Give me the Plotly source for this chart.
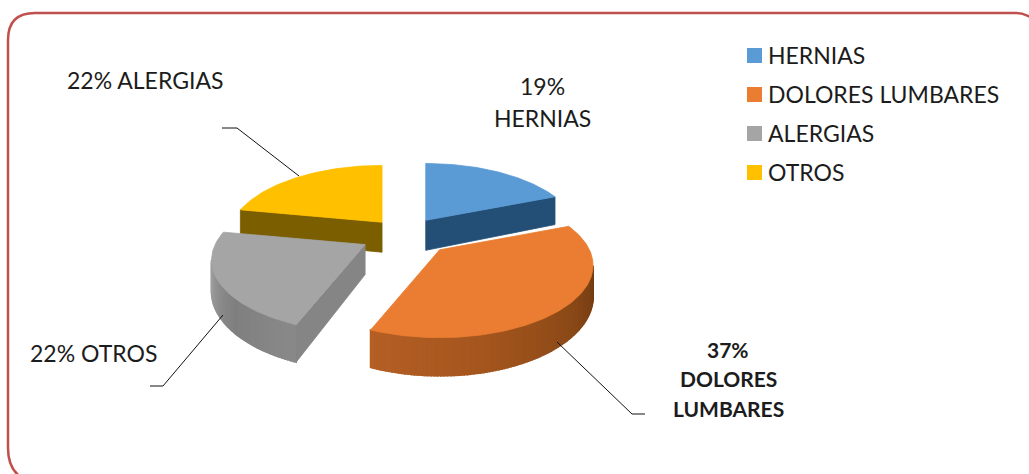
import math
import plotly.graph_objects as go

# ---- data ----
categories = ["HERNIAS", "DOLORES LUMBARES", "ALERGIAS", "OTROS"]
percent_values = [19, 37, 22, 22]
explode = [0.27, 0.31, 0.28, 0.25]
top_colors = ["#5b9bd5", "#ea7d31", "#a5a5a5", "#ffc000"]
side_colors = ["#234e75", "#a5561e", "#858585", "#7a5e00"]
outer_wall_stops = [
    ["#234e75", "#234e75"],
    ["#562c0b", "#6f3a12", "#8d4a18", "#a5561e", "#b45f25"],
    ["#8a8a8a", "#7f7f7f", "#9a9a9a", "#b5b5b5"],
    ["#7a5e00", "#7a5e00"],
]
nudge_x = [0, 1, -1, 1]
nudge_y = [-1, -2, -1, -1]

# ---- projection settings ----
CX, CY = 404, 236
RX, RY, PERSP, DEPTH = 150, 69, 0.214, 30
FONT = "Lato"
INK = "#1c1c1c"
LEGEND_SWATCH_X, LEGEND_TEXT_X, LEGEND_TOP, LEGEND_STEP = 754.5, 769, 55.5, 39


def project(gx, gy):
    s = 1 / (1 + PERSP * gy)
    return RX * gx * s, -RY * gy * s, s


def hex_rgb(c):
    return tuple(int(c[i:i + 2], 16) for i in (1, 3, 5))


def mix(stops, t):
    t = max(0, min(1, t)) * (len(stops) - 1)
    i = min(int(t), len(stops) - 2)
    f = t - i
    a, b = hex_rgb(stops[i]), hex_rgb(stops[i + 1])
    return "rgb(%d,%d,%d)" % tuple(round(a[k] + (b[k] - a[k]) * f) for k in range(3))


def poly(xs, ys, color, width=0.8):
    return go.Scatter(x=xs + xs[:1], y=ys + ys[:1], mode="lines", fill="toself", fillcolor=color,
                      line=dict(color=color, width=width), hoverinfo="skip", showlegend=False)


total = sum(percent_values)
spans, acc = [], 0
for v in percent_values:
    spans.append((acc / total * 360, (acc + v) / total * 360))
    acc += v

fig = go.Figure()

# paint order: back slices first, front slices last
for idx in [3, 0, 2, 1]:
    a0, a1 = spans[idx]
    mid = math.radians((a0 + a1) / 2)
    ox, oy, _ = project(explode[idx] * math.sin(mid), explode[idx] * math.cos(mid))
    ax, ay = CX + ox + nudge_x[idx], CY + oy + nudge_y[idx]

    def pt(deg):
        r = math.radians(deg)
        x, y, s = project(math.sin(r), math.cos(r))
        return ax + x, ay + y, s

    n = max(12, int(a1 - a0))
    degs = [a0 + (a1 - a0) * k / n for k in range(n + 1)]

    # outer curved wall, only where it faces the viewer
    for k in range(n):
        d0, d1 = degs[k], degs[k + 1]
        if math.cos(math.radians((d0 + d1) / 2)) > -PERSP:
            continue
        x0, y0, s0 = pt(d0)
        x1, y1, s1 = pt(d1)
        fig.add_trace(poly([x0, x1, x1, x0], [y0, y1, y1 + DEPTH * s1, y0 + DEPTH * s0],
                           mix(outer_wall_stops[idx], (k + 0.5) / n), width=1.6))

    # flat cut walls
    for deg, facing in ((a0, math.sin(math.radians(a0)) < -1e-6), (a1, math.sin(math.radians(a1)) > 1e-6)):
        if facing:
            x, y, s = pt(deg)
            fig.add_trace(poly([ax, x, x, ax], [ay, y, y + DEPTH * s, ay + DEPTH], side_colors[idx]))

    # top face
    arc = [pt(d) for d in degs]
    fig.add_trace(poly([ax] + [p[0] for p in arc], [ay] + [p[1] for p in arc], top_colors[idx]))

# legend: swatches and names, one row per category
rows = [LEGEND_TOP + LEGEND_STEP * i for i in range(len(categories))]
fig.add_trace(go.Scatter(x=[LEGEND_SWATCH_X] * len(categories), y=rows, mode="markers", showlegend=False,
                         hoverinfo="skip", marker=dict(symbol="square", size=15, color=top_colors)))
for name, row in zip(categories, rows):
    fig.add_annotation(x=LEGEND_TEXT_X, y=row - 1, xref="x", yref="y", text=name, showarrow=False,
                       xanchor="left", yanchor="middle", xshift=-3,
                       font=dict(family=FONT, size=23, color=INK))

labels = [
    ("19%", 542, 86, False, 23),
    ("HERNIAS", 542, 118, False, 23),
    ("22% ALERGIAS", 145, 80, False, 23),
    ("22% OTROS", 93, 353, False, 23),
    ("37%", 728, 349, True, 21),
    ("DOLORES", 728, 378, True, 21),
    ("LUMBARES", 728, 408, True, 21),
]
for text, x, y, bold, size in labels:
    fig.add_annotation(x=x, y=y, xref="x", yref="y", text=f"<b>{text}</b>" if bold else text, showarrow=False,
                       xanchor="center", yanchor="middle", font=dict(family=FONT, size=size, color=INK))

leaders = [
    "M 222 128 L 237 128 L 299 176",
    "M 150 386 L 163 386 L 223 315",
    "M 557 342 L 632 414 L 645 414",
]
shapes = [dict(type="path", path=p, line=dict(color="#111111", width=1), layer="above") for p in leaders]
shapes.append(dict(type="path", layer="above", line=dict(color="#c0504d", width=2.5),
                   path="M 26 480 Q 8 472 8 448 L 8 40 Q 8 13 35 13 L 1016 13 Q 1024 13 1034 19"))

fig.update_layout(
    width=1029, height=474, margin=dict(l=0, r=0, t=0, b=0), showlegend=False,
    paper_bgcolor="white", plot_bgcolor="white", shapes=shapes,
    xaxis=dict(range=[0, 1029], visible=False, fixedrange=True),
    yaxis=dict(range=[474, 0], visible=False, fixedrange=True),
)
fig.write_html("out.html", post_script="document.body.style.margin='0';", config={"displayModeBar": False})
